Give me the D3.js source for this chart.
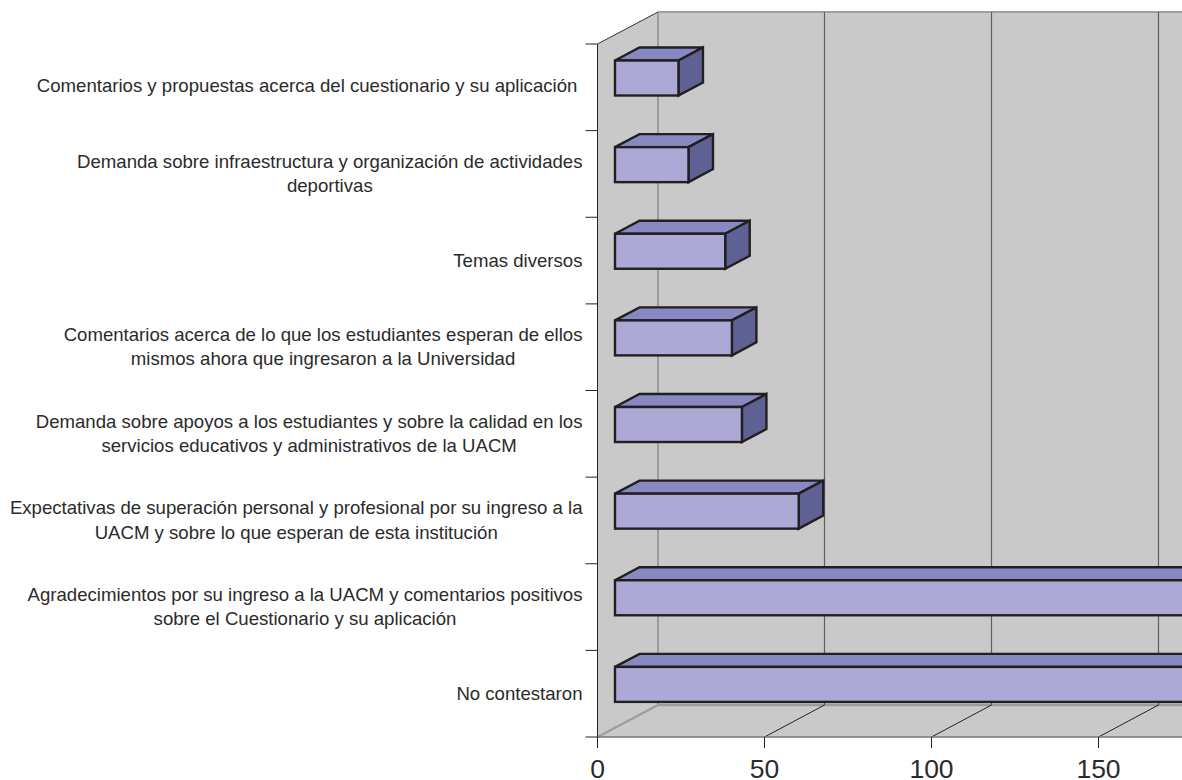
<!DOCTYPE html>
<html><head><meta charset="utf-8">
<script src="https://cdnjs.cloudflare.com/ajax/libs/d3/7.8.5/d3.min.js"></script>
<style>html,body{margin:0;padding:0;background:#fff;overflow:hidden}svg{display:block}text{font-family:"Liberation Sans",Arial,sans-serif}</style>
</head><body><svg id="c" width="1182" height="780"></svg>
<script>
const categories = [
  ["Comentarios y propuestas acerca del cuestionario y su aplicación\u00a0"],
  ["Demanda sobre infraestructura y organización de actividades","deportivas"],
  ["Temas diversos"],
  ["Comentarios acerca de lo que los estudiantes esperan de ellos","mismos ahora que ingresaron a la Universidad"],
  ["Demanda sobre apoyos a los estudiantes y sobre la calidad en los","servicios educativos y administrativos de la UACM"],
  ["Expectativas de superación personal y profesional por su ingreso a la","UACM y sobre lo que esperan de esta institución"],
  ["Agradecimientos por su ingreso a la UACM y comentarios positivos","sobre el Cuestionario y su aplicación"],
  ["No contestaron"]
];
const values = [19, 22, 33, 35, 38, 55, 205, 225];
const xTicks = [0, 50, 100, 150];

const svg = d3.select("#c");
const x = d3.scaleLinear().domain([0,200]).range([597.5,1265.5]);
const y = d3.scaleBand().domain(d3.range(categories.length)).range([44,737]);
const wallDx = 60.5, wallDy = -32;
const barFrontDx = 17.5, barFrontDy = -9.3, barDepthX = 24.5, barDepthY = -13, barH = 35;
const x0 = x(0), yT = y.range()[0], yB = y.range()[1];

const W = "#c9c9c9";
svg.append("path").attr("fill",W).attr("d",`M${x0},${yT}L${x0+wallDx},${yT+wallDy}L1182,${yT+wallDy}L1182,${yB}L${x0},${yB}Z`);
const line=(x1,y1,x2,y2,c,w)=>svg.append("line").attr("x1",x1).attr("y1",y1).attr("x2",x2).attr("y2",y2).attr("stroke",c).attr("stroke-width",w);
line(x0+wallDx,yT+wallDy,1182,yT+wallDy,"#a0a0a0",2);
line(x0+wallDx,yT+wallDy,x0+wallDx,yB+wallDy,"#9c9c9c",2);
line(x0,yB,x0+wallDx,yB+wallDy,"#9c9c9c",2);
line(x0+wallDx,yB+wallDy,1182,yB+wallDy,"#9c9c9c",2.5);
line(x0,yT,x0+wallDx,yT+wallDy,"#333",1);
xTicks.slice(1).forEach(t=>{
  line(x(t)+wallDx-0.5,yT+wallDy,x(t)+wallDx-0.5,yB+wallDy,"#5f5f5f",1.2);
  line(x(t),yB,x(t)+wallDx-0.5,yB+wallDy,"#222",1);
});
line(x0,yT,x0,yB+10,"#222",1);
line(x0,yB,1182,yB,"#777",1.5);
xTicks.forEach(t=>{ line(x(t),yB,x(t),yB+11,"#222",1); });
d3.range(categories.length+1).forEach(i=>{
  const yy=yT+i*y.step(); line(x0-12,yy,x0,yy,"#222",1);
});
svg.selectAll(".xl").data(xTicks).join("text").attr("class","xl")
  .attr("x",d=>x(d)).attr("y",yB+41).attr("text-anchor","middle")
  .attr("font-size",26.5).attr("fill","#2b2b2b").text(d=>d);

const B="#231f20";
values.forEach((v,i)=>{
  const cy=y(i)+y.bandwidth()/2+barFrontDy;
  const l=x0+barFrontDx, r=l+(x(v)-x0), t=cy-barH/2, b=cy+barH/2;
  const g=svg.append("g").attr("stroke",B).attr("stroke-width",2.4).attr("stroke-linejoin","miter");
  g.append("path").attr("fill","#8888c2").attr("d",`M${l},${t}L${l+barDepthX},${t+barDepthY}L${r+barDepthX},${t+barDepthY}L${r},${t}Z`);
  g.append("path").attr("fill","#5f6094").attr("d",`M${r},${t}L${r+barDepthX},${t+barDepthY}L${r+barDepthX},${b+barDepthY}L${r},${b}Z`);
  g.append("rect").attr("fill","#aca9d6").attr("x",l).attr("y",t).attr("width",r-l).attr("height",barH);
});

const lh=24.5, rightEdge=582.5;
categories.forEach((lines,i)=>{
  const cy=y(i)+y.bandwidth()/2;
  const g=svg.append("g");
  const ts=lines.map((s,k)=>g.append("text").attr("font-size",18.6).attr("fill","#2b2b2b")
    .attr("text-anchor","middle").attr("y",cy+(k-(lines.length-1)/2)*lh+(i===0?4.5:6)).text(s));
  const mw=d3.max(ts,t=>t.node().getComputedTextLength());
  ts.forEach(t=>t.attr("x",rightEdge-mw/2));
});
</script></body></html>
